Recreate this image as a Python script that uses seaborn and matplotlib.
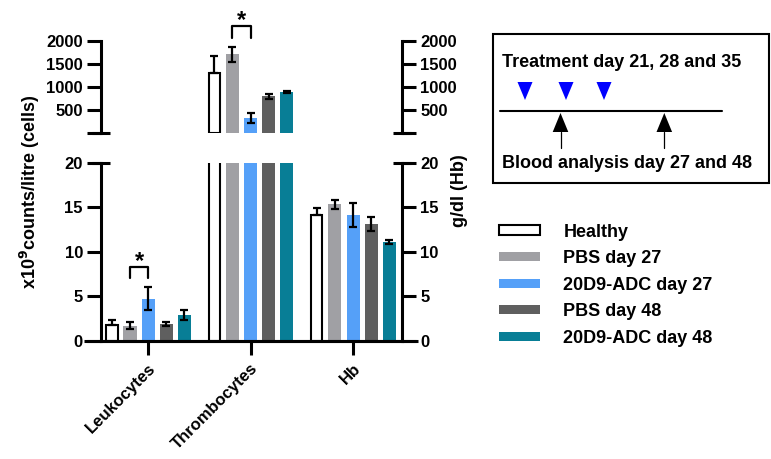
import numpy as np
import pandas as pd
import matplotlib
matplotlib.use("Agg")
import matplotlib.pyplot as plt
import seaborn as sns
from matplotlib.patches import Rectangle, Polygon, Patch
from matplotlib.container import BarContainer

# ---------------- data ----------------
categories = ["Leukocytes", "Thrombocytes", "Hb"]
groups = ["Healthy", "PBS day 27", "20D9-ADC day 27", "PBS day 48", "20D9-ADC day 48"]
leuko_mean = [1.8, 1.7, 4.75, 1.9, 2.9]
leuko_err = [0.55, 0.4, 1.3, 0.2, 0.6]
thromb_mean = [1310, 1710, 325, 800, 890]
thromb_err = [360, 160, 105, 50, 20]
hb_mean = [14.1, 15.35, 14.15, 13.1, 11.1]
hb_err = [0.85, 0.5, 1.35, 0.8, 0.25]
colors = ["#FFFFFF", "#A0A0A4", "#55A0F8", "#5F5F5F", "#087E96"]
bottom_ticks = [0, 5, 10, 15, 20]
top_ticks = [0, 500, 1000, 1500, 2000]
top_tick_labels = ["", "500", "1000", "1500", "2000"]

means = [leuko_mean, thromb_mean, hb_mean]
errs = [leuko_err, thromb_err, hb_err]
rows = []
for cat, mv in zip(categories, means):
    for g, m in zip(groups, mv):
        rows.append({"category": cat, "group": g, "value": m})
df = pd.DataFrame(rows)

# ---------------- style ----------------
sns.set_theme(style="ticks")
plt.rcParams["font.family"] = ["Liberation Sans", "DejaVu Sans"]
plt.rcParams["font.weight"] = "bold"
plt.rcParams["axes.labelweight"] = "bold"
plt.rcParams["text.color"] = "black"
plt.rcParams["axes.edgecolor"] = "black"
plt.rcParams["xtick.color"] = "black"
plt.rcParams["ytick.color"] = "black"
plt.rcParams["mathtext.default"] = "bf"

W, H = 771, 459
fig = plt.figure(figsize=(W / 100, H / 100), dpi=100)


def fx(px):
    return px / W


def fy(py):
    return 1 - py / H


LW = 2.2
ax_b = fig.add_axes([fx(101), fy(341), (402 - 101) / W, (341 - 162.6) / H])
ax_t = fig.add_axes([fx(101), fy(133.3), (402 - 101) / W, (133.3 - 40.7) / H])

bar_kw = dict(x="category", y="value", hue="group", order=categories,
              hue_order=groups, palette=colors, width=0.88, gap=0.28,
              errorbar=None, saturation=1, legend=False)
sns.barplot(data=df, ax=ax_b, **bar_kw)
sns.barplot(data=df[df["category"] == "Thrombocytes"], ax=ax_t, **bar_kw)

bars_b = [c for c in ax_b.containers if isinstance(c, BarContainer)]
bars_t = [c for c in ax_t.containers if isinstance(c, BarContainer)]

xl = (-0.459, 2.478)


def style_bars_and_errors(ax, conts):
    for hi, cont in enumerate(conts):
        for bar in cont:
            xc = bar.get_x() + bar.get_width() / 2
            if hi == 0:
                bar.set_edgecolor("black")
                bar.set_linewidth(1.5)
                wdt = 0.108
            else:
                bar.set_edgecolor("none")
                wdt = 0.127
            bar.set_width(wdt)
            bar.set_x(xc - wdt / 2)
            ci = int(round(xc))
            val = bar.get_height()
            e = errs[ci][hi]
            lo = 0 if hi == 0 else e
            ax.errorbar(xc, val, yerr=[[lo], [e]], fmt="none", ecolor="black",
                        elinewidth=1.6, capsize=2.6, capthick=1.6, zorder=5)


style_bars_and_errors(ax_b, bars_b)
style_bars_and_errors(ax_t, bars_t)

# ---- bottom axis ----
ax_b.set_xlim(*xl)
ax_b.set_ylim(0, 20)
ax_b.set_yticks(bottom_ticks)
ax_b.set_yticklabels([str(t) for t in bottom_ticks])
ax_b.spines["top"].set_visible(False)
for s in ["left", "right", "bottom"]:
    ax_b.spines[s].set_visible(True)
    ax_b.spines[s].set_linewidth(LW)
ax_b.tick_params(axis="y", which="major", left=True, right=True, labelleft=True,
                 labelright=True, length=10, width=LW, pad=3, labelsize=12)
ax_b.tick_params(axis="x", which="major", length=10, width=LW, pad=4, labelsize=12)
ax_b.set_xlabel("")
ax_b.set_ylabel("")
for lab in ax_b.get_xticklabels() + ax_b.get_yticklabels():
    lab.set_fontweight("bold")
plt.setp(ax_b.get_xticklabels(), rotation=45, ha="right", va="top",
         rotation_mode="anchor")
# extended x-axis line (Prism style)
ax_b.plot([-17 / 301, 1 + 16 / 301], [0, 0], transform=ax_b.get_yaxis_transform(),
          color="black", lw=LW, clip_on=False, solid_capstyle="butt", zorder=6)
# break ticks at 20 extend both sides
for xa in [(-9 / 301, 9 / 301), (1 - 9 / 301, 1 + 9 / 301)]:
    ax_b.plot(list(xa), [20, 20], transform=ax_b.get_yaxis_transform(),
              color="black", lw=LW, clip_on=False, solid_capstyle="butt")

# ---- top axis ----
ax_t.set_xlim(*xl)
ax_t.set_ylim(0, 2000)
ax_t.set_yticks(top_ticks)
ax_t.set_yticklabels(top_tick_labels)
ax_t.spines["top"].set_visible(False)
ax_t.spines["bottom"].set_visible(False)
for s in ["left", "right"]:
    ax_t.spines[s].set_visible(True)
    ax_t.spines[s].set_linewidth(LW)
ax_t.tick_params(axis="y", left=True, right=True, labelleft=True, labelright=True,
                 length=10, width=LW, pad=3, labelsize=12)
ax_t.tick_params(axis="x", bottom=False, labelbottom=False)
ax_t.set_xlabel("")
ax_t.set_ylabel("")
for lab in ax_t.get_yticklabels():
    lab.set_fontweight("bold")
for xa in [(-9 / 301, 9 / 301), (1 - 9 / 301, 1 + 9 / 301)]:
    ax_t.plot(list(xa), [0, 0], transform=ax_t.get_yaxis_transform(),
              color="black", lw=LW, clip_on=False, solid_capstyle="butt")


# ---- significance brackets ----
def bar_center(conts, hue_i, cat_i):
    for bar in conts[hue_i]:
        xc = bar.get_x() + bar.get_width() / 2
        if int(round(xc)) == cat_i:
            return xc
    return None


x1, x2 = bar_center(bars_b, 1, 0), bar_center(bars_b, 2, 0)
ax_b.plot([x1, x1, x2, x2], [7.06, 8.33, 8.33, 7.06], color="black", lw=1.6,
          clip_on=False)
ax_b.text((x1 + x2) / 2, 8.15, "*", ha="center", va="baseline", fontsize=17,
          fontweight="bold")

x1, x2 = bar_center(bars_t, 1, 1), bar_center(bars_t, 2, 1)
ax_t.plot([x1, x1, x2, x2], [2058, 2310, 2310, 2058], color="black", lw=1.6,
          clip_on=False)
ax_t.text((x1 + x2) / 2, 2290, "*", ha="center", va="baseline", fontsize=17,
          fontweight="bold", clip_on=False)

# ---- axis titles ----
fig.text(fx(30), fy(191.5), r"x10$^{9}$counts/litre (cells)", rotation=90,
         ha="center", va="center", fontsize=13, fontweight="bold")
fig.text(fx(459), fy(191), "g/dl (Hb)", rotation=90, ha="center", va="center",
         fontsize=13, fontweight="bold")

# ---- legend ----
handles = []
for g, c in zip(groups, colors):
    if c.upper() == "#FFFFFF":
        handles.append(Patch(facecolor=c, edgecolor="black", linewidth=1.5, label=g))
    else:
        handles.append(Patch(facecolor=c, edgecolor=c, linewidth=0, label=g))
fig.legend(handles=handles, loc="upper left", bbox_to_anchor=(fx(499), fy(223.5)),
           frameon=False, handlelength=2.28, handleheight=0.4,
           handletextpad=1.28, labelspacing=0.53, borderpad=0, borderaxespad=0,
           prop={"weight": "bold", "size": 13})

# ---- treatment scheme box ----
ax_o = fig.add_axes([0, 0, 1, 1])
ax_o.set_xlim(0, W)
ax_o.set_ylim(H, 0)
ax_o.axis("off")
ax_o.add_patch(Rectangle((493, 34), 276, 149, fill=False, edgecolor="black", lw=1.5))
ax_o.text(502, 66.7, "Treatment day 21, 28 and 35", ha="left", va="baseline",
          fontsize=13, fontweight="bold")
ax_o.text(502, 168, "Blood analysis day 27 and 48", ha="left", va="baseline",
          fontsize=13, fontweight="bold")
ax_o.plot([500, 722], [110.7, 110.7], color="black", lw=1.5)
for cx in [525, 566, 604]:
    ax_o.add_patch(Polygon([(cx - 7.5, 82), (cx + 7.5, 82), (cx, 100)],
                           closed=True, facecolor="#0000FF", edgecolor="none"))
for cx in [560.5, 664.3]:
    ax_o.add_patch(Polygon([(cx - 7.8, 132), (cx + 7.8, 132), (cx, 113)],
                           closed=True, facecolor="black", edgecolor="none"))
    ax_o.plot([cx, cx], [132, 148], color="black", lw=0.9)

fig.savefig("out.png", dpi=100)
